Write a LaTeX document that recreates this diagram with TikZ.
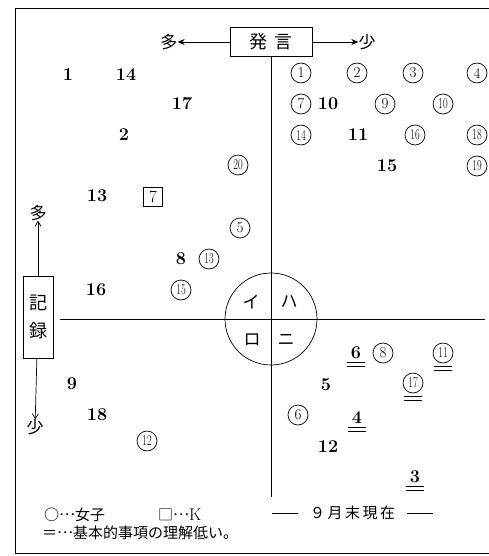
\documentclass[tikz,border=0pt]{standalone}
\usepackage{fontspec}
\newfontfamily\jp{Noto Sans CJK JP}
\usetikzlibrary{arrows.meta, positioning}
\newcommand\tw[1]{\scalebox{0.68}[1]{#1}}
\newcommand\middots{\raisebox{0.32em}{…}}
\tikzset{
  tag/.style={rectangle, draw, line width=0.7pt, inner sep=0pt, align=center, font=\jp\fontsize{18}{18}\selectfont},
  kanji/.style={inner sep=0pt, font=\jp\fontsize{17}{17}\selectfont},
  num/.style={inner sep=0pt, font=\bfseries\fontsize{18}{18}\selectfont},
  girl/.style={circle, draw, line width=0.7pt, inner sep=0pt, minimum size=20pt, font=\fontsize{15}{15}\selectfont},
  kid/.style={rectangle, draw, line width=0.7pt, inner sep=0pt, minimum size=19pt, font=\fontsize{17}{17}\selectfont},
  note/.style={inner sep=0pt, anchor=west, font=\jp\fontsize{15}{15}\selectfont},
  arrow/.style={-{Stealth[length=7pt, width=6pt]}, line width=0.7pt},
  thinarrow/.style={-{Straight Barb[length=5pt, width=6pt]}, line width=0.7pt},
  axis/.style={line width=0.7pt},
  uline/.style={line width=0.6pt}
}

\begin{document}
\begin{tikzpicture}[x=1pt, y=-1pt, node distance=50pt]
\useasboundingbox (0,0) rectangle (489,556);

% Frame
\draw[line width=0.8pt] (15,8) rectangle (496,553);

% Speaking axis
\node[tag, minimum width=82pt, minimum height=29pt] (speak) at (271,42) {発\hspace{8pt}言};
\node[kanji, left=52pt of speak] (spmany) {多};
\node[kanji, right=46pt of speak] (spfew) {少};
\draw[arrow] (speak) -- (spmany);
\draw[arrow] (speak) -- (spfew);

% Record axis
\node[tag, minimum width=30pt, minimum height=82pt] (record) at (38,317) {記\\[10pt]録};
\node[kanji, above=55pt of record] (remany) {多};
\node[kanji, below=61pt of record, xshift=-3pt] (refew) {少};
\draw[thinarrow] (record) -- (remany);
\draw[thinarrow] (record) -- (refew);

% Cross
\coordinate (o) at (271,319);
\coordinate (vend) at (271,497);
\coordinate (hbeg) at (60,319);
\coordinate (hend) at (485,319);
\draw[axis] (speak.south) -- (vend);
\draw[axis] (hbeg) -- (hend);
\node[circle, draw, axis, minimum size=92pt, inner sep=0pt] (hub) at (o) {};
\node[kanji] (qi) at (251,302) {イ};
\node[kanji] (qha) at (289,302) {ハ};
\node[kanji] (qro) at (252,340) {ロ};
\node[kanji] (qni) at (286,340) {ニ};

% Boys
\foreach \t/\x/\y in {1/68/75, 14/126/75, 17/182/104, 2/124/135, 13/97/196,
    8/181/259, 16/96/290, 10/328/104, 11/358/135, 15/387/166,
    6/356/353, 5/326/385, 4/357/418, 12/328/447, 3/415/477, 9/72/384, 18/97/415}
  \node[num] (n\t) at (\x,\y) {\t};

% Girls
\foreach \t/\x/\y in {20/238/165, 5/240/228, 13/209/259, 15/181/290,
    1/301/73, 2/357/73, 3/413/73, 4/477/73, 7/301/104, 9/385/104, 10/443/104,
    14/301/135, 16/415/135, 18/477/135, 19/477/166,
    8/383/353, 11/443/353, 17/413/383, 6/298/415, 12/147/441}
  \node[girl] (g\t) at (\x,\y) {\ifnum\t>9 \tw{\t}\else\t\fi};

% K
\node[kid] (k7) at (153,197) {7};

% Low understanding
\foreach \m in {n6, n4, n3, g11, g17} {
  \draw[uline] ([xshift=-9pt, yshift=-3pt]\m.south) -- ([xshift=9pt, yshift=-3pt]\m.south);
  \draw[uline] ([xshift=-9pt, yshift=-7pt]\m.south) -- ([xshift=9pt, yshift=-7pt]\m.south);
}

% Legend
\node[note] (keygirl) at (44,515) {○\middots 女子};
\node[note] (keyk) at (158,515) {□\middots{\rmfamily\fontsize{17}{17}\selectfont K}};
\node[note] (keydate) at (272,513) {\rule[5pt]{26pt}{0.8pt}\hspace{12pt}９\,月\,末\,現\,在\hspace{12pt}\rule[5pt]{26pt}{0.8pt}};
\node[note] (keylow) at (42,533) {＝\middots 基本的事項の理解低い。};

\end{tikzpicture}
\end{document}
